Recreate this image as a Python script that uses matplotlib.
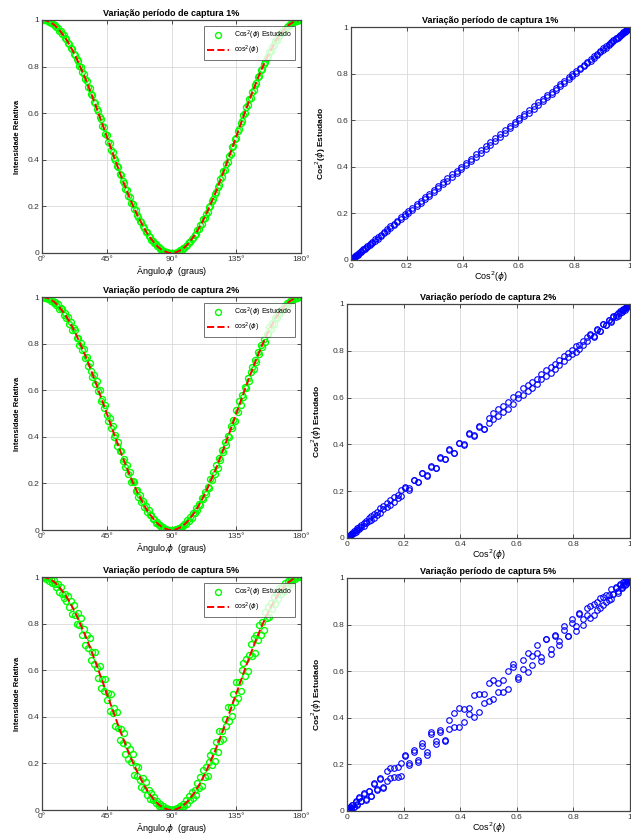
#!/usr/bin/env python
#-*- coding:utf-8 -*-

import numpy as np
import matplotlib
matplotlib.use('Agg')
import matplotlib.pyplot as plt

plt.rcParams['font.family'] = ['Liberation Sans', 'DejaVu Sans']
plt.rcParams['mathtext.fontset'] = 'dejavusans'

# angles in degrees, one sample per degree
angulo = np.arange(0, 181)

# cos^2 for 0..90 degrees (the other half is the mirror)
cos2_meio = [1.000, 1.000, 0.999, 0.997, 0.995, 0.992, 0.989, 0.985, 0.981, 0.976,
             0.970, 0.964, 0.957, 0.949, 0.941, 0.933, 0.924, 0.915, 0.905, 0.894,
             0.883, 0.872, 0.860, 0.847, 0.835, 0.821, 0.808, 0.794, 0.780, 0.765,
             0.750, 0.735, 0.719, 0.703, 0.687, 0.671, 0.655, 0.638, 0.621, 0.604,
             0.587, 0.570, 0.552, 0.535, 0.517, 0.500, 0.483, 0.465, 0.448, 0.430,
             0.413, 0.396, 0.379, 0.362, 0.345, 0.329, 0.313, 0.297, 0.281, 0.265,
             0.250, 0.235, 0.220, 0.206, 0.192, 0.179, 0.165, 0.153, 0.140, 0.128,
             0.117, 0.106, 0.095, 0.085, 0.076, 0.067, 0.059, 0.051, 0.043, 0.036,
             0.030, 0.024, 0.019, 0.015, 0.011, 0.008, 0.005, 0.003, 0.001, 0.000,
             0.000]
cos2 = np.concatenate([cos2_meio, cos2_meio[-2::-1]])

# estimated values, capture period variation 1%
est1 = [1.000, 1.000, 0.998, 0.998, 0.994, 0.993, 0.987, 0.986, 0.979, 0.977,
        0.968, 0.966, 0.954, 0.951, 0.938, 0.935, 0.921, 0.918, 0.902, 0.897,
        0.880, 0.875, 0.856, 0.850, 0.831, 0.825, 0.804, 0.798, 0.776, 0.769,
        0.746, 0.739, 0.714, 0.708, 0.682, 0.676, 0.650, 0.643, 0.616, 0.609,
        0.582, 0.575, 0.547, 0.540, 0.512, 0.505, 0.478, 0.470, 0.443, 0.435,
        0.408, 0.401, 0.374, 0.367, 0.340, 0.334, 0.308, 0.302, 0.276, 0.270,
        0.246, 0.239, 0.216, 0.210, 0.188, 0.183, 0.162, 0.156, 0.137, 0.131,
        0.114, 0.109, 0.092, 0.088, 0.073, 0.070, 0.057, 0.053, 0.041, 0.038,
        0.029, 0.025, 0.018, 0.016, 0.010, 0.009, 0.005, 0.004, 0.001, 0.001,
        0.000,
        0.000, 0.002, 0.002, 0.006, 0.007, 0.012, 0.014, 0.021, 0.022, 0.032,
        0.034, 0.046, 0.048, 0.062, 0.064, 0.079, 0.082, 0.098, 0.103, 0.121,
        0.125, 0.144, 0.149, 0.169, 0.175, 0.196, 0.202, 0.224, 0.231, 0.254,
        0.261, 0.285, 0.293, 0.317, 0.325, 0.350, 0.357, 0.384, 0.391, 0.418,
        0.425, 0.453, 0.460, 0.488, 0.495, 0.522, 0.530, 0.557, 0.565, 0.592,
        0.599, 0.626, 0.633, 0.659, 0.667, 0.692, 0.699, 0.723, 0.731, 0.754,
        0.761, 0.784, 0.790, 0.812, 0.818, 0.838, 0.844, 0.863, 0.869, 0.886,
        0.891, 0.908, 0.912, 0.927, 0.930, 0.943, 0.947, 0.959, 0.962, 0.972,
        0.974, 0.983, 0.983, 0.990, 0.991, 0.996, 0.996, 0.999, 0.999, 1.000]

# estimated values, capture period variation 2%
est2 = [1.000, 1.000, 0.997, 0.999, 0.992, 0.994, 0.985, 0.988, 0.976, 0.980,
        0.964, 0.969, 0.949, 0.953, 0.948, 0.924, 0.930, 0.910, 0.913, 0.884,
        0.891, 0.860, 0.866, 0.859, 0.825, 0.826, 0.794, 0.804, 0.774, 0.778,
        0.738, 0.743, 0.703, 0.717, 0.681, 0.656, 0.667, 0.628, 0.639, 0.596,
        0.601, 0.552, 0.562, 0.523, 0.535, 0.492, 0.467, 0.480, 0.438, 0.447,
        0.399, 0.406, 0.361, 0.378, 0.339, 0.341, 0.298, 0.305, 0.269, 0.279,
        0.240, 0.247, 0.206, 0.212, 0.204, 0.169, 0.173, 0.141, 0.150, 0.122,
        0.126, 0.098, 0.101, 0.078, 0.084, 0.063, 0.065, 0.046, 0.047, 0.032,
        0.034, 0.021, 0.022, 0.013, 0.013, 0.006, 0.006, 0.002, 0.002, 0.000,
        0.000,
        0.001, 0.000, 0.005, 0.003, 0.010, 0.008, 0.018, 0.016, 0.028, 0.026,
        0.041, 0.039, 0.057, 0.053, 0.074, 0.071, 0.093, 0.087, 0.112, 0.108,
        0.138, 0.132, 0.164, 0.153, 0.185, 0.179, 0.218, 0.213, 0.249, 0.239,
        0.277, 0.266, 0.307, 0.301, 0.345, 0.337, 0.376, 0.363, 0.405, 0.401,
        0.446, 0.436, 0.473, 0.466, 0.514, 0.507, 0.553, 0.538, 0.580, 0.571,
        0.616, 0.611, 0.654, 0.641, 0.679, 0.701, 0.691, 0.729, 0.720, 0.762,
        0.755, 0.792, 0.786, 0.818, 0.809, 0.843, 0.841, 0.870, 0.863, 0.889,
        0.886, 0.912, 0.909, 0.932, 0.926, 0.946, 0.943, 0.961, 0.959, 0.974,
        0.972, 0.984, 0.982, 0.991, 0.990, 0.997, 0.996, 0.999, 1.000, 1.000]

# estimated values, capture period variation 5%
est5 = [1.000, 0.998, 1.000, 0.991, 0.998, 0.982, 0.991, 0.973, 0.986, 0.968,
        0.955, 0.970, 0.937, 0.959, 0.929, 0.908, 0.928, 0.897, 0.920, 0.872,
        0.895, 0.842, 0.880, 0.839, 0.800, 0.846, 0.793, 0.824, 0.752, 0.775,
        0.710, 0.750, 0.697, 0.738, 0.642, 0.679, 0.625, 0.678, 0.609, 0.566,
        0.617, 0.525, 0.562, 0.510, 0.562, 0.470, 0.503, 0.425, 0.496, 0.415,
        0.438, 0.361, 0.419, 0.352, 0.300, 0.349, 0.288, 0.332, 0.241, 0.280,
        0.220, 0.260, 0.205, 0.241, 0.152, 0.189, 0.145, 0.183, 0.130, 0.100,
        0.137, 0.091, 0.120, 0.065, 0.084, 0.049, 0.074, 0.041, 0.055, 0.028,
        0.040, 0.016, 0.025, 0.009, 0.016, 0.004, 0.008, 0.001, 0.003, 0.000,
        0.000,
        0.001, 0.003, 0.001, 0.009, 0.005, 0.017, 0.011, 0.027, 0.018, 0.042,
        0.026, 0.058, 0.043, 0.077, 0.052, 0.086, 0.065, 0.117, 0.094, 0.142,
        0.103, 0.170, 0.141, 0.185, 0.144, 0.207, 0.236, 0.195, 0.253, 0.212,
        0.290, 0.251, 0.337, 0.298, 0.339, 0.305, 0.392, 0.359, 0.441, 0.383,
        0.442, 0.403, 0.500, 0.463, 0.548, 0.482, 0.550, 0.512, 0.600, 0.632,
        0.574, 0.646, 0.598, 0.665, 0.711, 0.662, 0.738, 0.674, 0.753, 0.730,
        0.795, 0.750, 0.806, 0.773, 0.849, 0.825, 0.872, 0.830, 0.887, 0.863,
        0.914, 0.883, 0.925, 0.906, 0.953, 0.929, 0.957, 0.942, 0.976, 0.962,
        0.984, 0.971, 0.990, 0.983, 0.996, 0.991, 0.999, 0.998, 1.000, 1.000]

titulos = ['Variação período de captura 1%',
           'Variação período de captura 2%',
           'Variação período de captura 5%']
series = [est1, est2, est5]

xticks_ang = [0, 45, 90, 135, 180]
xlabels_ang = ['0°', '45°', '90°', '135°', '180°']
yticks = [0, 0.2, 0.4, 0.6, 0.8, 1]
ylabels = ['0', '0.2', '0.4', '0.6', '0.8', '1']

fs = 6

# axes boxes [left, bottom, width, height] in figure fraction
pos_esq = [[0.0666, 0.6974, 0.4105, 0.2787],
           [0.0666, 0.3660, 0.4105, 0.2787],
           [0.0666, 0.0311, 0.4105, 0.2787]]
pos_dir = [[0.5563, 0.6890, 0.4420, 0.2787],
           [0.5500, 0.3565, 0.4485, 0.2800],
           [0.5500, 0.0300, 0.4485, 0.2787]]


def estilo(ax):
    ax.grid(True, color='#d9d9d9', linewidth=0.6)
    ax.set_axisbelow(True)
    ax.tick_params(direction='in', length=3, width=0.6, labelsize=fs,
                   top=True, right=True, colors='#333333', pad=2)
    for s in ax.spines.values():
        s.set_color('#444444')
        s.set_linewidth(0.9)


fig = plt.figure(figsize=(6.31, 8.36), dpi=100)

for i in range(3):
    # left: intensity vs angle
    ax = fig.add_axes(pos_esq[i])
    ax.plot(angulo, series[i], 'o', mfc='none', mec='#00ff00', ms=4.3, mew=1.0,
            label=r'Cos$^2$($\phi$) Estudado')
    ax.plot(angulo, cos2, '--', color='#ff0000', lw=1.4,
            label=r'cos$^2$($\phi$)')
    ax.set_xlim(0, 180)
    ax.set_ylim(0, 1)
    ax.set_xticks(xticks_ang)
    ax.set_xticklabels(xlabels_ang)
    ax.set_yticks(yticks)
    ax.set_yticklabels(ylabels)
    estilo(ax)
    ax.set_title(titulos[i], fontsize=6.5, fontweight='bold', pad=3)
    ax.set_xlabel(r'Ângulo,$\phi$  (graus)', fontsize=6.5, labelpad=1)
    ax.set_ylabel('Intensidade Relativa', fontsize=5.5, fontweight='bold',
                  labelpad=5)
    leg = ax.legend(loc='upper right', fontsize=5, frameon=True, fancybox=False,
                    borderaxespad=0.8, handlelength=3.2, labelspacing=0.3,
                    borderpad=0.4)
    leg.get_frame().set_edgecolor('#333333')
    leg.get_frame().set_linewidth(0.6)

    # right: estimated vs theoretical
    ax2 = fig.add_axes(pos_dir[i])
    ax2.plot(cos2, series[i], 'o', mfc='none', mec='#0000ff', ms=4, mew=0.8)
    ax2.set_xlim(0, 1)
    ax2.set_ylim(0, 1)
    ax2.set_xticks(yticks)
    ax2.set_xticklabels(ylabels)
    ax2.set_yticks(yticks)
    ax2.set_yticklabels(ylabels)
    estilo(ax2)
    ax2.set_title(titulos[i], fontsize=6.5, fontweight='bold', pad=3)
    ax2.set_xlabel(r'Cos$^2$($\phi$)', fontsize=6.5, labelpad=0)
    ax2.set_ylabel(r'Cos$^2$($\phi$) Estudado', fontsize=6, fontweight='bold',
                   labelpad=6)

fig.savefig('out.png', dpi=100)
